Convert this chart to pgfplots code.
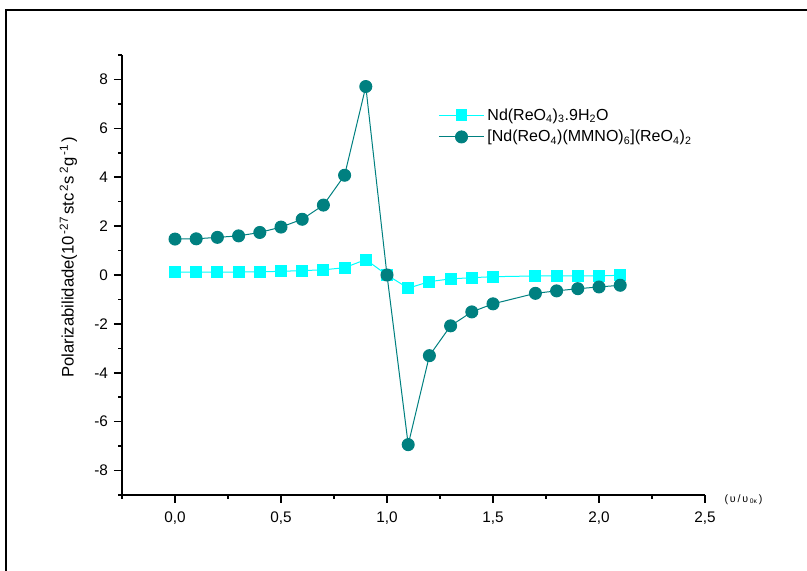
\documentclass[border=0pt]{standalone}
\usepackage{fontspec}
\setmainfont{Liberation Sans}
\usepackage{pgfplots}
\pgfplotsset{compat=1.18}
\definecolor{cyanc}{RGB}{0,255,255}
\definecolor{tealc}{RGB}{0,128,128}
\begin{document}
\begin{tikzpicture}
\path[use as bounding box] (0,0) rectangle (605.25pt,428.25pt);
\draw[line width=1.5pt] (4.5pt,0) -- (4.5pt,420.75pt) -- (605.25pt,420.75pt);
\begin{axis}[
  at={(91.5pt,57pt)}, anchor=south west,
  scale only axis, width=437.25pt, height=330pt,
  xmin=-0.25, xmax=2.5, ymin=-9, ymax=9,
  axis lines*=left,
  axis line style={line width=1.1pt},
  every tick/.style={line width=1.1pt, black},
  tick align=outside,
  major tick length=6pt, minor tick length=3pt,
  xtick={0,0.5,1,1.5,2,2.5},
  minor xtick={-0.25,0.25,0.75,1.25,1.75,2.25},
  ytick={-8,-6,-4,-2,0,2,4,6,8},
  minor ytick={-9,-7,-5,-3,-1,1,3,5,7,9},
  /pgf/number format/assume math mode=true,
  xticklabel style={/pgf/number format/.cd, fixed, fixed zerofill, precision=1, use comma, /tikz/.cd, yshift=-3pt},
  yticklabel style={/pgf/number format/.cd, fixed, precision=0, /tikz/.cd, xshift=-1pt},
  tick label style={font=\fontsize{11.5}{13}\selectfont},
  ylabel={Polarizabilidade(10\textsuperscript{\,-27\,}stc\textsuperscript{\,2}s\textsuperscript{\,2}g\textsuperscript{\,-1\,})},
  every axis y label/.style={at={(rel axis cs:-0.092,0.54)}, rotate=90, anchor=center, font=\fontsize{12.5}{14}\selectfont},
  xlabel={(\,υ\,/\,υ\,\raisebox{-1.2pt}{\fontsize{5}{6}\selectfont 0κ}\,)},
  every axis x label/.style={at={(rel axis cs:1.066,-0.01)}, anchor=center, font=\fontsize{8}{9}\selectfont},
  legend style={at={(rel axis cs:0.542,0.885)}, anchor=north west, draw=none, fill=none, font=\fontsize{12}{14}\selectfont, row sep=2pt, inner sep=0pt},
  legend cell align=left,
  legend image code/.code={\draw[mark repeat=2,mark phase=2] plot coordinates {(0cm,0cm)(0.6cm,0cm)(1.2cm,0cm)};},
]
\addplot[color=cyanc, line width=0.75pt, mark=square*, mark size=4.1pt, mark options={fill=cyanc, draw=cyanc}] coordinates {
(0.0,0.12)(0.1,0.12)(0.2,0.12)(0.3,0.12)(0.4,0.13)(0.5,0.15)(0.6,0.18)(0.7,0.21)(0.8,0.3)(0.9,0.63)
(1.0,0.0)(1.1,-0.54)(1.2,-0.27)(1.3,-0.16)(1.4,-0.11)(1.5,-0.07)
(1.7,-0.04)(1.8,-0.04)(1.9,-0.04)(2.0,-0.04)(2.1,-0.01)};
\addlegendentry{Nd(ReO\textsubscript{4})\textsubscript{3}.9H\textsubscript{2}O}
\addplot[color=tealc, line width=0.75pt, mark=*, mark size=4.5pt, mark options={fill=tealc, draw=tealc}] coordinates {
(0.0,1.47)(0.1,1.48)(0.2,1.54)(0.3,1.6)(0.4,1.74)(0.5,1.96)(0.6,2.28)(0.7,2.86)(0.8,4.08)(0.9,7.71)
(1.0,0.0)(1.1,-6.94)(1.2,-3.3)(1.3,-2.08)(1.4,-1.51)(1.5,-1.18)
(1.7,-0.75)(1.8,-0.65)(1.9,-0.56)(2.0,-0.49)(2.1,-0.42)};
\addlegendentry{[Nd(ReO\textsubscript{4})(MMNO)\textsubscript{6}](ReO\textsubscript{4})\textsubscript{2}}
\end{axis}
\end{tikzpicture}
\end{document}
